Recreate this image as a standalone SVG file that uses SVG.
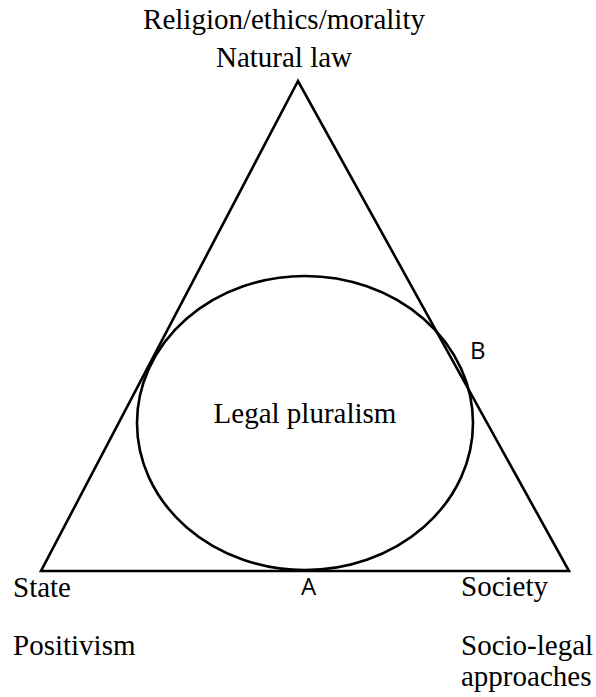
<svg xmlns="http://www.w3.org/2000/svg" width="596" height="697" viewBox="0 0 596 697">
<style>
.serif{font-family:"Liberation Serif","Times New Roman",serif;font-size:29px;fill:#000}
.sans{font-family:"Open Sans","Liberation Sans",sans-serif;font-size:24px;fill:#000}
.shape{fill:none;stroke:#000;stroke-width:2.6}
</style>
<rect width="596" height="697" fill="#fff"/>
<g id="triangle"><polygon class="shape" points="298,81 41,571 569,571" stroke-linejoin="miter"/></g>
<g id="legal-pluralism">
<ellipse class="shape" cx="305" cy="423" rx="168" ry="147"/>
<text class="serif" x="305" y="423" text-anchor="middle">Legal pluralism</text>
</g>
<g id="top-label">
<text class="serif" x="284" y="29" text-anchor="middle">Religion/ethics/morality</text>
<text class="serif" x="284" y="67" text-anchor="middle">Natural law</text>
</g>
<g id="state">
<text class="serif" x="13" y="597">State</text>
<text class="serif" x="13" y="655">Positivism</text>
</g>
<g id="society">
<text class="serif" x="461" y="596">Society</text>
<text class="serif" x="461" y="655">Socio-legal</text>
<text class="serif" x="461" y="686">approaches</text>
</g>
<g id="label-A"><text class="sans" x="308.5" y="595" text-anchor="middle">A</text></g>
<g id="label-B"><text class="sans" x="470" y="359">B</text></g>
</svg>
